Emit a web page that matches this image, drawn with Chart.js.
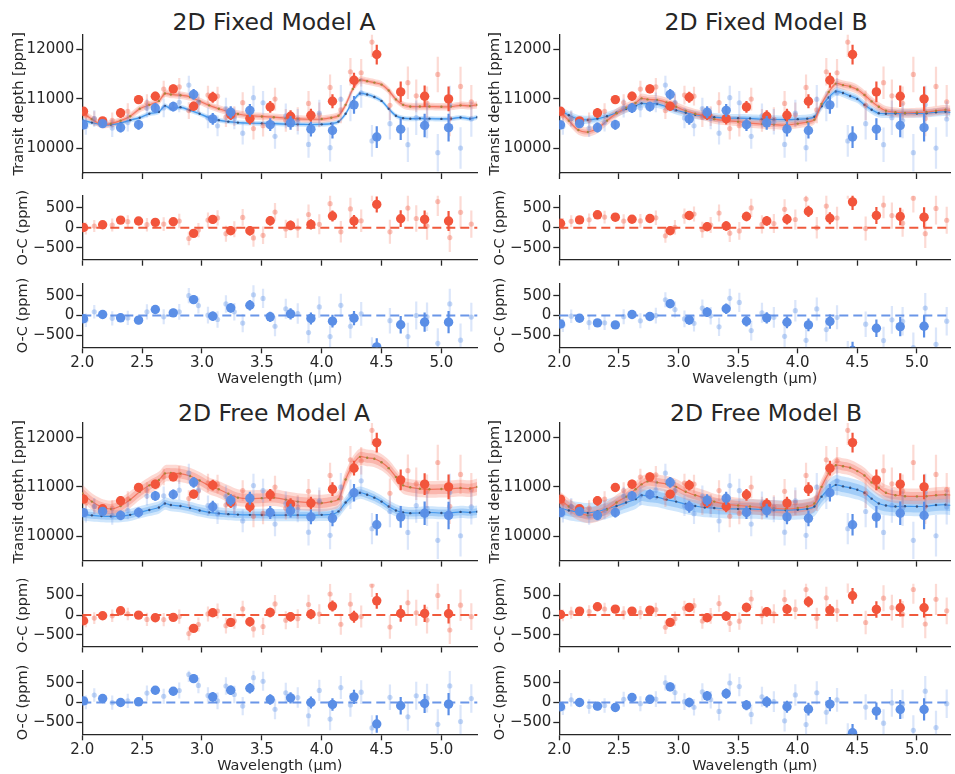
<!DOCTYPE html>
<html>
<head>
<meta charset="utf-8">
<script src="https://cdn.jsdelivr.net/npm/chart.js@4.4.1/dist/chart.umd.min.js"></script>
<style>
  body { margin: 0; background: #fff; width: 955px; height: 774px; position: relative; overflow: hidden; }
  canvas { position: absolute; }
  .title { position: absolute; font: 23.5px "DejaVu Sans", sans-serif; color: #262626; white-space: nowrap; transform: translate(-50%, -50%); }
</style>
</head>
<body>
<script>
// axis ticks
const xTicks = [2.0, 2.5, 3.0, 3.5, 4.0, 4.5, 5.0];
const depthTicks = [10000, 11000, 12000];
const resTicks = [-500, 0, 500];

// observed spectrum, coarse bins (big points)
const bigWl = [2.01, 2.17, 2.32, 2.47, 2.61, 2.76, 2.93, 3.09, 3.24, 3.40, 3.57, 3.74, 3.91, 4.09, 4.27, 4.46, 4.66, 4.86, 5.06];
const redDepth = [10750, 10554, 10716, 10986, 11054, 11203, 10851, 11034, 10682, 10601, 10838, 10649, 10669, 10953, 11378, 11899, 11142, 11054, 11000];
const blueDepth = [10475, 10500, 10420, 10478, 10815, 10845, 11092, 10595, 10730, 10768, 10478, 10516, 10388, 10360, 10880, 10228, 10388, 10462, 10418];
const redErr = [80, 70, 100, 90, 90, 90, 90, 110, 110, 120, 120, 120, 130, 140, 150, 200, 210, 220, 250];
const blueErr = [90, 80, 100, 100, 100, 100, 110, 120, 120, 130, 130, 140, 150, 160, 180, 220, 220, 240, 280];

// observed spectrum, fine bins (faded points)
const smallWl = [2.03, 2.10, 2.25, 2.38, 2.54, 2.68, 2.81, 2.89, 2.97, 3.05, 3.13, 3.20, 3.27, 3.34, 3.43, 3.51, 3.61, 3.70, 3.80, 3.89, 3.98, 4.07, 4.16, 4.24, 4.33, 4.42, 4.57, 4.72, 4.79, 4.88, 4.97, 5.07, 5.16, 5.25];
const redSmallDepth = [10670, 10600, 10567, 10750, 10925, 11200, 11242, 10763, 10913, 11078, 11055, 10630, 10650, 10923, 10400, 10459, 10997, 10566, 10590, 10909, 10678, 11232, 10778, 11550, 11530, 12150, 10870, 11328, 11062, 10912, 11495, 10603, 11253, 10943];
const blueSmallDepth = [10443, 10602, 10410, 10520, 10812, 10817, 10932, 11280, 10932, 10616, 10455, 10805, 10607, 10307, 11025, 10922, 10243, 10657, 10538, 10078, 10715, 10013, 10993, 10850, 11122, 10150, 10498, 10073, 10620, 10562, 9912, 10887, 10005, 10593];
const smallErrRed = [150, 150, 160, 160, 170, 170, 180, 170, 180, 190, 190, 200, 200, 210, 220, 220, 230, 230, 240, 250, 250, 260, 270, 280, 280, 300, 300, 330, 330, 340, 360, 360, 400, 340];
const smallErrBlue = [170, 170, 180, 180, 190, 190, 200, 190, 200, 210, 210, 220, 220, 230, 240, 240, 250, 250, 260, 270, 270, 280, 290, 300, 300, 320, 320, 350, 350, 360, 380, 380, 420, 360];

// model grid and best-fit models
const modelWl = [2.00, 2.08, 2.16, 2.24, 2.32, 2.40, 2.48, 2.56, 2.64, 2.69, 2.74, 2.82, 2.90, 2.98, 3.06, 3.14, 3.22, 3.30, 3.40, 3.50, 3.60, 3.70, 3.80, 3.90, 4.00, 4.08, 4.14, 4.20, 4.26, 4.32, 4.38, 4.44, 4.50, 4.56, 4.62, 4.68, 4.74, 4.82, 4.90, 5.00, 5.08, 5.16, 5.24, 5.30];
const fixA_red = [10720, 10590, 10480, 10500, 10560, 10650, 10800, 10880, 10960, 11110, 11090, 11075, 11040, 10955, 10870, 10800, 10745, 10695, 10660, 10645, 10630, 10610, 10595, 10588, 10592, 10620, 10660, 10880, 11200, 11380, 11360, 11330, 11290, 11170, 10990, 10880, 10845, 10845, 10845, 10840, 10845, 10870, 10860, 10880];
const fixA_blue = [10570, 10520, 10480, 10480, 10510, 10570, 10620, 10700, 10740, 10860, 10800, 10830, 10770, 10700, 10620, 10570, 10540, 10520, 10510, 10505, 10500, 10490, 10485, 10482, 10485, 10500, 10540, 10700, 10950, 11110, 11090, 11040, 10960, 10800, 10660, 10610, 10600, 10605, 10600, 10595, 10600, 10625, 10600, 10630];
const fixB_red = [10760, 10560, 10370, 10330, 10400, 10560, 10710, 10820, 10920, 11010, 10990, 10980, 10930, 10840, 10760, 10700, 10660, 10590, 10560, 10540, 10510, 10490, 10480, 10470, 10500, 10530, 10580, 10900, 11140, 11310, 11280, 11250, 11190, 11080, 10950, 10840, 10760, 10730, 10715, 10725, 10735, 10760, 10780, 10760];
const fixB_blue = [10780, 10670, 10590, 10575, 10600, 10650, 10720, 10800, 10860, 10910, 10900, 10900, 10840, 10770, 10720, 10680, 10650, 10630, 10610, 10610, 10605, 10590, 10585, 10580, 10590, 10600, 10640, 10850, 11030, 11150, 11120, 11060, 11000, 10880, 10780, 10710, 10700, 10705, 10710, 10705, 10710, 10730, 10740, 10720];
const freeA_red = [10870, 10700, 10590, 10550, 10610, 10740, 10900, 11030, 11140, 11270, 11280, 11270, 11220, 11130, 11020, 10950, 10860, 10780, 10760, 10770, 10780, 10740, 10700, 10680, 10670, 10700, 10750, 11150, 11450, 11610, 11590, 11570, 11500, 11380, 11200, 11030, 10990, 10960, 10950, 10955, 10960, 10975, 10965, 11000];
const freeA_blue = [10440, 10420, 10405, 10400, 10405, 10430, 10480, 10530, 10580, 10660, 10630, 10610, 10570, 10520, 10480, 10460, 10445, 10435, 10430, 10428, 10425, 10425, 10425, 10425, 10430, 10440, 10500, 10680, 10820, 10880, 10840, 10780, 10700, 10600, 10520, 10480, 10465, 10470, 10478, 10468, 10470, 10490, 10480, 10495];
const freeB_red = [10760, 10600, 10480, 10420, 10450, 10540, 10680, 10800, 10950, 11050, 11110, 11090, 11060, 11000, 10900, 10830, 10770, 10700, 10650, 10620, 10600, 10580, 10565, 10550, 10570, 10600, 10660, 11000, 11280, 11440, 11420, 11390, 11320, 11230, 11090, 10980, 10880, 10830, 10810, 10805, 10810, 10830, 10840, 10830];
const freeB_blue = [10580, 10520, 10490, 10470, 10500, 10550, 10610, 10680, 10750, 10830, 10810, 10790, 10740, 10700, 10650, 10610, 10580, 10570, 10555, 10550, 10550, 10540, 10530, 10525, 10535, 10550, 10600, 10800, 10950, 11040, 11010, 10980, 10940, 10880, 10760, 10660, 10620, 10600, 10605, 10600, 10605, 10630, 10635, 10620];

// model uncertainty half-widths, per panel (Fixed A, Fixed B, Free A, Free B)
const redSigma1 = [40, 50, 100, 90];
const redSigma2 = [75, 95, 170, 160];
const blueSigma1 = [25, 45, 70, 120];
const blueSigma2 = [50, 85, 125, 200];

// residuals (O-C), coarse bins
const fixA_redRes = [5, 75, 190, 167, 133, 150, -142, 208, -75, -75, 175, 58, 83, 292, 167, 583, 225, 208, 167];
const fixA_blueRes = [-83, 25, -58, -117, 150, 67, 400, -17, 192, 258, -33, 42, -75, -142, -67, -790, -233, -167, -167];
const fixB_redRes = [110, 195, 322, 263, 212, 229, -76, 305, 25, 42, 280, 170, 212, 407, 237, 644, 305, 280, 263];
const fixB_blueRes = [-212, -68, -186, -237, 25, -25, 296, -110, 85, 169, -144, -59, -169, -237, -152, -880, -322, -280, -271];
const freeA_redRes = [-144, -17, 110, 0, -68, -59, -339, 59, -186, -170, 68, -42, 25, 229, -42, 364, 42, 42, 34];
const freeA_blueRes = [42, 100, 0, 17, 308, 283, 600, 142, 308, 358, 75, 117, 0, -50, 142, -542, -83, -25, -42];
const freeB_redRes = [17, 102, 212, 153, 102, 127, -186, 195, -68, -25, 195, 85, 153, 339, 127, 492, 144, 186, 186];
const freeB_blueRes = [-108, 0, -92, -125, 125, 83, 392, 0, 167, 225, -67, 17, -108, -167, -42, -760, -217, -175, -175];

// residuals (O-C), fine bins
const fixA_redSmall = [-20, 40, 67, 150, 75, 90, 167, -270, -60, 190, 245, -150, -40, 258, -255, -190, 390, -30, -10, 330, 85, 600, -103, 470, 172, 960, -103, 490, 230, 40, 652, -246, 385, 90];
const fixB_redSmall = [90, 160, 197, 265, 165, 170, 247, -204, 10, 287, 342, -50, 65, 368, -138, -80, 495, 82, 105, 459, 205, 715, -3, 540, 242, 1021, -23, 565, 302, 112, 737, -150, 481, 186];
const freeA_redSmall = [-160, -75, -18, 30, -110, -115, -38, -470, -240, 30, 105, -270, -145, 158, -352, -290, 285, -130, -90, 270, 25, 537, -233, 280, -38, 760, -303, 315, 60, -126, 502, -379, 252, -40];
const freeB_redSmall = [-5, 60, 92, 155, 55, 62, 137, -310, -90, 175, 240, -150, -20, 293, -210, -155, 410, -5, 35, 395, 145, 650, -80, 440, 112, 870, -188, 430, 190, 20, 652, -227, 404, 109];
const fixA_blueSmall = [-117, 92, -70, -60, 92, -33, 92, 500, 250, 8, -100, 290, 92, -190, 520, 430, -270, 170, 50, -430, 215, -530, 255, -270, 40, -870, -130, -530, 0, -33, -700, 290, -620, -40];
const fixB_blueSmall = [-246, -18, -180, -184, -30, -133, -3, 396, 150, -85, -195, 185, -8, -285, 431, 330, -380, 69, -47, -524, 121, -625, 165, -355, -45, -960, -219, -630, -110, -146, -810, 186, -724, -144];
const freeA_blueSmall = [3, 187, -5, 40, 237, 157, 302, 705, 430, 173, 40, 415, 202, -90, 625, 535, -170, 245, 125, -333, 305, -417, 375, -60, 260, -640, 130, -360, 170, 109, -550, 417, -480, 100];
const freeB_blueSmall = [-142, 67, -100, -75, 80, -30, 85, 495, 250, 20, -120, 265, 70, -225, 490, 400, -300, 145, 20, -460, 190, -555, 245, -245, 65, -840, -115, -520, -10, -40, -700, 285, -630, -30];

const FONT = '"DejaVu Sans", sans-serif';
const INK = '#262626';
const RED = '#f2553c';
const BLUE = '#5a8ee6';
const TICK_SIZE = 15;
const LABEL_SIZE = 14.5;

// draws vertical error bars under each point dataset that has "errors"
const errorBars = {
    id: 'errorBars',
    beforeDatasetDraw(chart, args) {
        const ds = chart.data.datasets[args.index];
        if (!ds.errors) return;
        const { ctx, chartArea, scales: { x, y } } = chart;
        ctx.save();
        ctx.beginPath();
        ctx.rect(chartArea.left, chartArea.top, chartArea.width, chartArea.height);
        ctx.clip();
        ctx.strokeStyle = ds.errorColor;
        ctx.lineWidth = ds.errorWidth;
        ds.data.forEach((p, i) => {
            const px = x.getPixelForValue(p.x);
            ctx.beginPath();
            ctx.moveTo(px, y.getPixelForValue(p.y - ds.errors[i]));
            ctx.lineTo(px, y.getPixelForValue(p.y + ds.errors[i]));
            ctx.stroke();
        });
        ctx.restore();
    }
};

// dashed line at O-C = 0
const zeroLine = {
    id: 'zeroLine',
    beforeDatasetsDraw(chart, args, opts) {
        const { ctx, chartArea, scales: { y } } = chart;
        const py = y.getPixelForValue(0);
        ctx.save();
        ctx.strokeStyle = opts.color;
        ctx.lineWidth = 2;
        ctx.setLineDash([9, 5]);
        ctx.beginPath();
        ctx.moveTo(chartArea.left, py);
        ctx.lineTo(chartArea.right, py);
        ctx.stroke();
        ctx.restore();
    }
};

const cols = [
    { left: 0, width: 482, areaLeft: 82.3, areaRight: 479.3, xMax: 5.3, titleX: 274, depthLabelX: 19, resLabelX: 23.5 },
    { left: 480, width: 475, areaLeft: 559.3, areaRight: 955, xMax: 5.28, titleX: 766, depthLabelX: 495, resLabelX: 500.5 }
];
const rows = [
    { depth: [34.5, 173], red: [195.7, 259.7], blue: [283.3, 347.3], titleY: 22 },
    { depth: [422.9, 560.6], red: [583.5, 646.5], blue: [670.3, 734.3], titleY: 413 }
];

const panels = [
    { name: '2D Fixed Model A', col: 0, row: 0, k: 0, redModel: fixA_red, blueModel: fixA_blue, redRes: fixA_redRes, blueRes: fixA_blueRes, redSmall: fixA_redSmall, blueSmall: fixA_blueSmall },
    { name: '2D Fixed Model B', col: 1, row: 0, k: 1, redModel: fixB_red, blueModel: fixB_blue, redRes: fixB_redRes, blueRes: fixB_blueRes, redSmall: fixB_redSmall, blueSmall: fixB_blueSmall },
    { name: '2D Free Model A', col: 0, row: 1, k: 2, redModel: freeA_red, blueModel: freeA_blue, redRes: freeA_redRes, blueRes: freeA_blueRes, redSmall: freeA_redSmall, blueSmall: freeA_blueSmall },
    { name: '2D Free Model B', col: 1, row: 1, k: 3, redModel: freeB_red, blueModel: freeB_blue, redRes: freeB_redRes, blueRes: freeB_blueRes, redSmall: freeB_redSmall, blueSmall: freeB_blueSmall }
];

function pts(xs, ys) {
    return xs.map((x, i) => ({ x: x, y: ys[i] }));
}

function pointSet(xs, ys, errs, color, errColor, radius, errWidth) {
    return {
        type: 'scatter', data: pts(xs, ys), errors: errs, errorColor: errColor, errorWidth: errWidth,
        pointRadius: radius, pointBackgroundColor: color, pointBorderWidth: 0, borderWidth: 0
    };
}

function bandSet(ys, color, fill) {
    return {
        type: 'line', data: pts(modelWl, ys), borderWidth: 0, pointRadius: 0,
        backgroundColor: color, fill: fill, tension: 0.3
    };
}

function subplot(col, area, yCfg, datasets, labelX, yTitle, withX, zeroColor) {
    const top = area[0], bottom = area[1];
    const canvasTop = Math.floor(top - 4);
    const padTop = top - canvasTop;
    const xh = withX ? 40.5 : 7;
    const H = Math.ceil(padTop + (bottom - top) + xh + 1);
    const padBottom = H - padTop - (bottom - top) - xh;
    const padLeft = labelX - col.left - LABEL_SIZE * 0.6;
    const yw = col.areaLeft - col.left - padLeft;
    const padRight = col.width - (col.areaRight - col.left);

    const canvas = document.createElement('canvas');
    canvas.width = col.width;
    canvas.height = H;
    canvas.style.left = col.left + 'px';
    canvas.style.top = canvasTop + 'px';
    document.body.appendChild(canvas);

    datasets.forEach((d, i) => { d.order = 100 - i; });

    const plugins = [errorBars];
    if (zeroColor) plugins.push(zeroLine);

    new Chart(canvas, {
        type: 'scatter',
        data: { datasets: datasets },
        options: {
            responsive: false,
            animation: false,
            events: [],
            layout: { padding: { left: padLeft, top: padTop, right: padRight, bottom: padBottom } },
            plugins: {
                legend: { display: false },
                tooltip: { enabled: false },
                zeroLine: { color: zeroColor }
            },
            scales: {
                x: {
                    type: 'linear', min: 2.0, max: col.xMax,
                    afterBuildTicks: s => { s.ticks = xTicks.map(v => ({ value: v })); },
                    afterFit: s => { s.height = xh; s.paddingLeft = 0; s.paddingRight = 0; },
                    grid: { drawOnChartArea: false, drawTicks: true, tickLength: 6, tickWidth: 1.3, tickColor: INK },
                    border: { display: true, color: INK, width: 1.3 },
                    ticks: {
                        display: withX, padding: 1, color: INK, maxRotation: 0, autoSkip: false,
                        font: { family: FONT, size: TICK_SIZE },
                        callback: v => v.toFixed(1)
                    },
                    title: { display: withX, text: 'Wavelength (μm)', color: INK, font: { family: FONT, size: LABEL_SIZE }, padding: 0 }
                },
                y: {
                    type: 'linear', min: yCfg.min, max: yCfg.max,
                    afterBuildTicks: s => { s.ticks = yCfg.ticks.map(v => ({ value: v })); },
                    afterFit: s => { s.width = yw; s.paddingTop = 0; s.paddingBottom = 0; },
                    grid: { drawOnChartArea: false, drawTicks: true, tickLength: 6, tickWidth: 1.3, tickColor: INK },
                    border: { display: true, color: INK, width: 1.3 },
                    ticks: {
                        padding: 2, color: INK, font: { family: FONT, size: TICK_SIZE },
                        callback: v => (v < 0 ? '\u2212' + (-v) : String(v))
                    },
                    title: { display: true, text: yTitle, color: INK, font: { family: FONT, size: LABEL_SIZE }, padding: 0 }
                }
            }
        },
        plugins: plugins
    });
}

panels.forEach(p => {
    const col = cols[p.col];
    const row = rows[p.row];

    const title = document.createElement('div');
    title.className = 'title';
    title.textContent = p.name;
    title.style.left = col.titleX + 'px';
    title.style.top = row.titleY + 'px';
    document.body.appendChild(title);

    const k = p.k;
    const depthSets = [
        bandSet(p.blueModel.map(v => v + blueSigma2[k]), 'rgba(0,0,0,0)', false),
        bandSet(p.blueModel.map(v => v - blueSigma2[k]), 'rgba(130,190,248,0.38)', '-1'),
        bandSet(p.blueModel.map(v => v + blueSigma1[k]), 'rgba(0,0,0,0)', false),
        bandSet(p.blueModel.map(v => v - blueSigma1[k]), 'rgba(80,160,242,0.35)', '-1'),
        bandSet(p.redModel.map(v => v + redSigma2[k]), 'rgba(0,0,0,0)', false),
        bandSet(p.redModel.map(v => v - redSigma2[k]), 'rgba(248,145,130,0.35)', '-1'),
        bandSet(p.redModel.map(v => v + redSigma1[k]), 'rgba(0,0,0,0)', false),
        bandSet(p.redModel.map(v => v - redSigma1[k]), 'rgba(242,110,95,0.33)', '-1'),
        {
            type: 'line', data: pts(modelWl, p.blueModel), borderColor: '#3f96ec', borderWidth: 1.2,
            pointRadius: 1.2, pointBackgroundColor: '#34507e', pointBorderWidth: 0, fill: false, tension: 0.3
        },
        {
            type: 'line', data: pts(modelWl, p.redModel), borderColor: '#f27560', borderWidth: 1.2,
            pointRadius: 1.2, pointBackgroundColor: '#a8843a', pointBorderWidth: 0, fill: false, tension: 0.3
        },
        pointSet(smallWl, redSmallDepth, smallErrRed, 'rgba(242,85,60,0.35)', 'rgba(242,85,60,0.22)', 2.6, 2.2),
        pointSet(smallWl, blueSmallDepth, smallErrBlue, 'rgba(90,142,230,0.35)', 'rgba(90,142,230,0.22)', 2.6, 2.2),
        pointSet(bigWl, redDepth, redErr, RED, RED, 4.7, 2.2),
        pointSet(bigWl, blueDepth, blueErr, 'rgba(90,142,230,0.95)', BLUE, 4.7, 2.2)
    ];
    subplot(col, row.depth, { min: 9500, max: 12300, ticks: depthTicks }, depthSets,
        col.depthLabelX, 'Transit depth [ppm]', false, null);

    const redSets = [
        pointSet(smallWl, p.redSmall, smallErrRed, 'rgba(242,85,60,0.35)', 'rgba(242,85,60,0.22)', 2.6, 2.2),
        pointSet(bigWl, p.redRes, redErr, RED, RED, 4.7, 2.2)
    ];
    subplot(col, row.red, { min: -800, max: 800, ticks: resTicks }, redSets,
        col.resLabelX, 'O-C (ppm)', false, '#f05a3c');

    const blueSets = [
        pointSet(smallWl, p.blueSmall, smallErrBlue, 'rgba(90,142,230,0.35)', 'rgba(90,142,230,0.22)', 2.6, 2.2),
        pointSet(bigWl, p.blueRes, blueErr, BLUE, BLUE, 4.7, 2.2)
    ];
    subplot(col, row.blue, { min: -800, max: 800, ticks: resTicks }, blueSets,
        col.resLabelX, 'O-C (ppm)', true, '#6a96e8');
});
</script>
</body>
</html>
